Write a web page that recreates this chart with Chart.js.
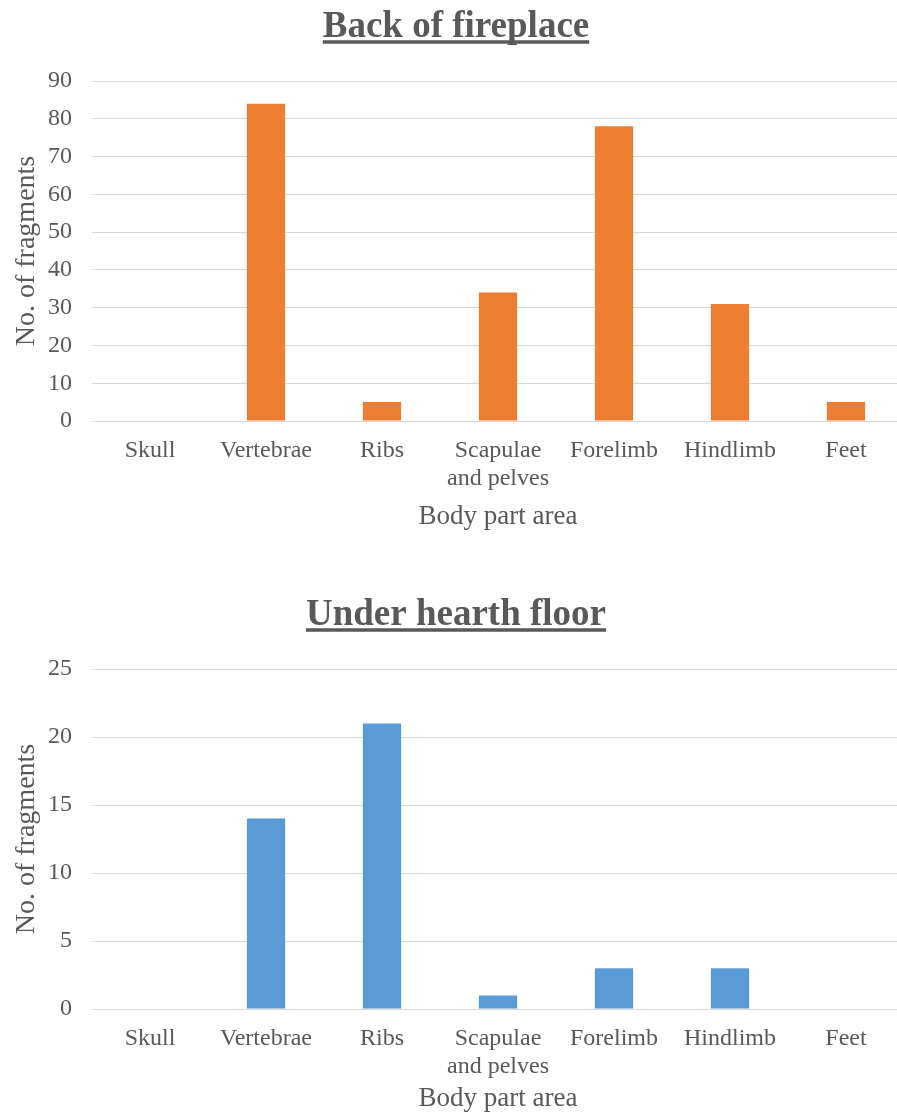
<!DOCTYPE html>
<html>
<head>
<meta charset="utf-8">
<script src="https://cdn.jsdelivr.net/npm/chart.js@4.4.1/dist/chart.umd.min.js"></script>
<style>
  html, body { margin: 0; padding: 0; background: #fff; overflow: hidden; width: 897px; height: 1115px; }
  .panel { position: absolute; left: 0; width: 912px; }
  #p1 { top: 0; height: 588px; }
  #p2 { top: 588px; height: 527px; }
  canvas { display: block; }
</style>
</head>
<body>
<div class="panel" id="p1"><canvas id="c1"></canvas></div>
<div class="panel" id="p2"><canvas id="c2"></canvas></div>
<script>
// Body part categories shared by both panels
const bodyParts = ['Skull', 'Vertebrae', 'Ribs', ['Scapulae', 'and pelves'], 'Forelimb', 'Hindlimb', 'Feet'];

// Fragment counts per context
const backOfFireplace = [0, 84, 5, 34, 78, 31, 5];
const underHearthFloor = [0, 14, 21, 1, 3, 3, 0];

// Axis ranges
const fireplaceAxis = { max: 90, step: 10 };
const hearthAxis = { max: 25, step: 5 };

const titleFireplace = 'Back of fireplace';
const titleHearth = 'Under hearth floor';
const xTitle = 'Body part area';
const yTitle = 'No. of fragments';

const textColor = '#595959';
const gridColor = '#d9d9d9';
const serif = "'Liberation Serif', 'Times New Roman', serif";

// Underlined bold heading drawn above the plot
const headingPlugin = {
  id: 'heading',
  afterDraw(chart, args, opts) {
    const ctx = chart.ctx;
    ctx.save();
    ctx.font = 'bold 37px ' + serif;
    ctx.fillStyle = textColor;
    ctx.textAlign = 'center';
    ctx.textBaseline = 'alphabetic';
    const cx = chart.width / 2;
    const y = opts.y;
    ctx.fillText(opts.text, cx, y);
    const w = ctx.measureText(opts.text).width;
    ctx.strokeStyle = textColor;
    ctx.lineWidth = 3.5;
    ctx.beginPath();
    ctx.moveTo(cx - w / 2, y + 5);
    ctx.lineTo(cx + w / 2, y + 5);
    ctx.stroke();
    ctx.restore();
  }
};

function makeChart(id, values, color, axis, title, bottomPad, xHeight) {
  return new Chart(document.getElementById(id), {
    type: 'bar',
    data: {
      labels: bodyParts,
      datasets: [{
        data: values,
        backgroundColor: color,
        borderWidth: 0,
        barPercentage: 0.33,
        categoryPercentage: 1
      }]
    },
    plugins: [headingPlugin],
    options: {
      responsive: true,
      maintainAspectRatio: false,
      animation: false,
      layout: { padding: { top: 81, right: 8, bottom: bottomPad, left: 0 } },
      plugins: {
        legend: { display: false },
        tooltip: { enabled: false },
        heading: { text: title, y: 37 }
      },
      scales: {
        x: {
          grid: { display: false, drawTicks: false },
          border: { color: gridColor, width: 1 },
          ticks: { color: textColor, font: { family: serif, size: 24 }, padding: 15, maxRotation: 0, autoSkip: false },
          title: { display: true, text: xTitle, color: textColor, font: { family: serif, size: 27 }, padding: { top: 4, bottom: 0 } },
          afterFit(scale) { scale.height = xHeight; }
        },
        y: {
          min: 0,
          max: axis.max,
          grid: { color: gridColor, lineWidth: 1, drawTicks: false },
          border: { display: false },
          ticks: { stepSize: axis.step, color: textColor, font: { family: serif, size: 24 }, padding: 20 },
          title: { display: true, text: yTitle, color: textColor, font: { family: serif, size: 28 }, padding: { top: 10, bottom: 0 } },
          afterFit(scale) { scale.width = 92; }
        }
      }
    }
  });
}

makeChart('c1', backOfFireplace, '#ED7D31', fireplaceAxis, titleFireplace, 55, 112);
makeChart('c2', underHearthFloor, '#5B9BD5', hearthAxis, titleHearth, 0, 106);
</script>
</body>
</html>
